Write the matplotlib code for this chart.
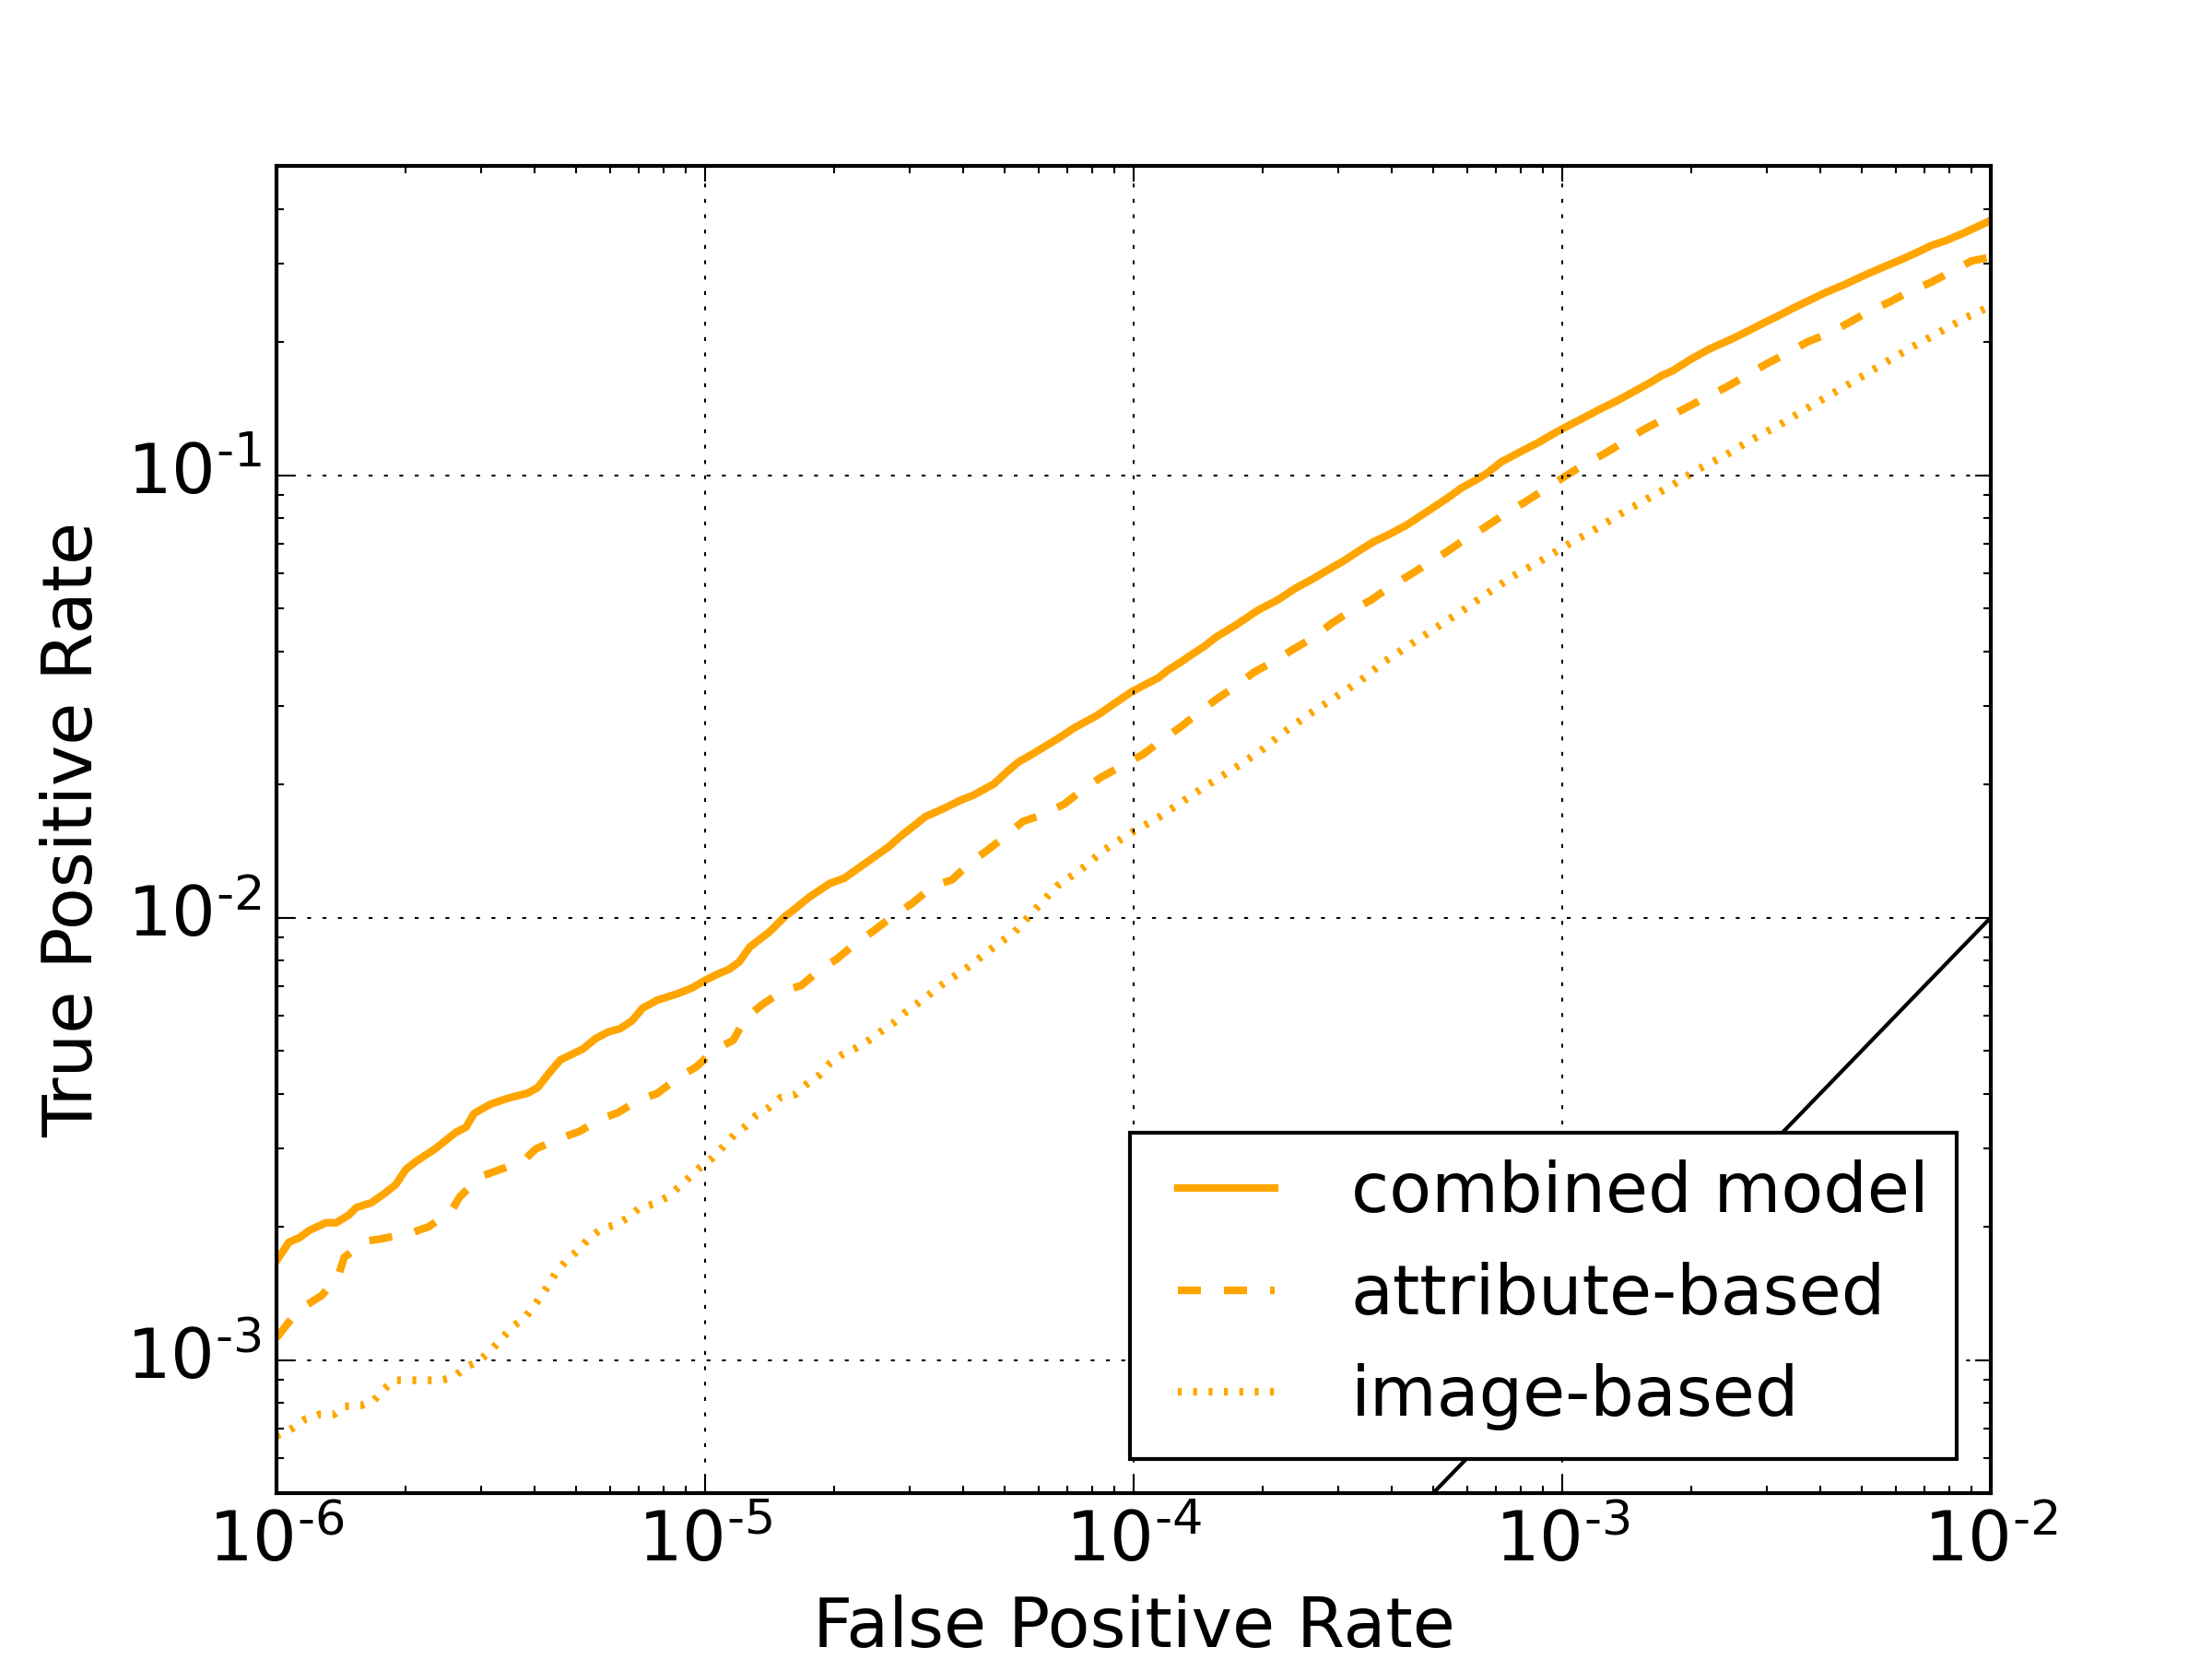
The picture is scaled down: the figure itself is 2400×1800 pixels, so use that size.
import numpy as np
import matplotlib
matplotlib.use("Agg")
import matplotlib.pyplot as plt
from matplotlib.ticker import FuncFormatter

# curves, stored as log10 exponents
combined_fpr = [-6.000, -5.971, -5.947, -5.923, -5.885, -5.861, -5.832, -5.813, -5.779, -5.750,
                -5.722, -5.698, -5.674, -5.630, -5.582, -5.558, -5.539, -5.501, -5.462, -5.414,
                -5.390, -5.366, -5.338, -5.285, -5.256, -5.227, -5.198, -5.170, -5.146, -5.112,
                -5.064, -5.030, -5.002, -4.973, -4.944, -4.920, -4.896, -4.848, -4.814, -4.790,
                -4.757, -4.709, -4.675, -4.627, -4.570, -4.541, -4.513, -4.486, -4.442, -4.402,
                -4.375, -4.326, -4.295, -4.268, -4.237, -4.210, -4.179, -4.138, -4.085, -4.040,
                -4.005, -3.978, -3.942, -3.920, -3.889, -3.862, -3.835, -3.809, -3.760, -3.711,
                -3.662, -3.621, -3.581, -3.541, -3.510, -3.474, -3.439, -3.408, -3.363, -3.318,
                -3.274, -3.235, -3.201, -3.176, -3.142, -3.099, -3.057, -3.014, -2.989, -2.955,
                -2.912, -2.870, -2.827, -2.793, -2.768, -2.742, -2.700, -2.657, -2.606, -2.564,
                -2.530, -2.496, -2.462, -2.428, -2.385, -2.343, -2.292, -2.249, -2.207, -2.164,
                -2.139, -2.105, -2.071, -2.037, -2.000]
combined_tpr = [-2.776, -2.734, -2.724, -2.707, -2.690, -2.690, -2.673, -2.655, -2.645, -2.625,
                -2.604, -2.569, -2.551, -2.523, -2.486, -2.474, -2.443, -2.422, -2.409, -2.397,
                -2.384, -2.354, -2.322, -2.297, -2.274, -2.259, -2.251, -2.233, -2.205, -2.187,
                -2.172, -2.159, -2.143, -2.129, -2.117, -2.100, -2.067, -2.031, -1.998, -1.980,
                -1.954, -1.923, -1.911, -1.878, -1.839, -1.814, -1.793, -1.772, -1.753, -1.734,
                -1.724, -1.698, -1.670, -1.648, -1.631, -1.615, -1.597, -1.571, -1.543, -1.513,
                -1.490, -1.476, -1.458, -1.441, -1.422, -1.404, -1.387, -1.367, -1.338, -1.306,
                -1.281, -1.255, -1.234, -1.211, -1.194, -1.171, -1.150, -1.136, -1.113, -1.084,
                -1.056, -1.029, -1.011, -0.996, -0.970, -0.948, -0.927, -0.903, -0.890, -0.873,
                -0.851, -0.831, -0.808, -0.790, -0.775, -0.764, -0.738, -0.715, -0.693, -0.673,
                -0.656, -0.640, -0.623, -0.607, -0.587, -0.570, -0.547, -0.529, -0.512, -0.493,
                -0.481, -0.470, -0.456, -0.441, -0.424]

attribute_fpr = [-6.000, -5.966, -5.928, -5.894, -5.856, -5.842, -5.789, -5.760, -5.683, -5.645,
                 -5.592, -5.573, -5.525, -5.482, -5.424, -5.395, -5.338, -5.294, -5.242, -5.203,
                 -5.155, -5.112, -5.059, -5.021, -4.978, -4.934, -4.906, -4.867, -4.819, -4.776,
                 -4.728, -4.694, -4.646, -4.608, -4.558, -4.517, -4.468, -4.424, -4.379, -4.344,
                 -4.295, -4.259, -4.205, -4.161, -4.116, -4.076, -4.027, -3.978, -3.934, -3.893,
                 -3.844, -3.809, -3.760, -3.720, -3.671, -3.630, -3.577, -3.541, -3.492, -3.447,
                 -3.398, -3.358, -3.309, -3.269, -3.218, -3.184, -3.125, -3.087, -3.031, -2.997,
                 -2.946, -2.904, -2.853, -2.810, -2.759, -2.717, -2.666, -2.619, -2.572, -2.526,
                 -2.475, -2.428, -2.377, -2.334, -2.283, -2.237, -2.190, -2.139, -2.088, -2.045,
                 -2.000]
attribute_tpr = [-2.950, -2.908, -2.875, -2.854, -2.811, -2.768, -2.731, -2.727, -2.712, -2.699,
                 -2.663, -2.632, -2.586, -2.571, -2.550, -2.523, -2.499, -2.484, -2.455, -2.441,
                 -2.412, -2.398, -2.359, -2.338, -2.300, -2.277, -2.228, -2.197, -2.166, -2.154,
                 -2.115, -2.095, -2.056, -2.031, -1.994, -1.968, -1.929, -1.915, -1.874, -1.850,
                 -1.813, -1.783, -1.765, -1.743, -1.709, -1.683, -1.657, -1.631, -1.599, -1.571,
                 -1.534, -1.508, -1.476, -1.446, -1.420, -1.395, -1.365, -1.337, -1.306, -1.283,
                 -1.250, -1.227, -1.197, -1.173, -1.139, -1.120, -1.082, -1.061, -1.026, -1.005,
                 -0.974, -0.953, -0.923, -0.897, -0.871, -0.851, -0.825, -0.802, -0.776, -0.750,
                 -0.724, -0.699, -0.679, -0.657, -0.629, -0.609, -0.585, -0.564, -0.538, -0.516,
                 -0.507]

image_fpr = [-6.000, -5.962, -5.933, -5.899, -5.866, -5.842, -5.803, -5.774, -5.750, -5.726,
             -5.664, -5.616, -5.587, -5.558, -5.530, -5.501, -5.472, -5.448, -5.419, -5.395,
             -5.366, -5.347, -5.323, -5.294, -5.270, -5.242, -5.208, -5.179, -5.155, -5.122,
             -5.088, -5.059, -5.035, -5.011, -4.982, -4.954, -4.930, -4.906, -4.882, -4.853,
             -4.824, -4.790, -4.762, -4.733, -4.709, -4.680, -4.646, -4.617, -4.589, -4.560,
             -4.531, -4.504, -4.446, -4.388, -4.335, -4.277, -4.228, -4.179, -4.121, -4.067,
             -4.005, -3.942, -3.885, -3.827, -3.764, -3.706, -3.648, -3.590, -3.532, -3.470,
             -3.416, -3.354, -3.296, -3.231, -3.176, -3.116, -3.052, -2.993, -2.929, -2.870,
             -2.806, -2.742, -2.683, -2.619, -2.560, -2.496, -2.432, -2.372, -2.309, -2.249,
             -2.186, -2.122, -2.058, -2.000]
image_tpr = [-3.172, -3.154, -3.134, -3.123, -3.123, -3.105, -3.103, -3.093, -3.067, -3.046,
             -3.046, -3.046, -3.039, -3.016, -3.004, -2.980, -2.949, -2.924, -2.903, -2.873,
             -2.832, -2.801, -2.775, -2.750, -2.724, -2.704, -2.694, -2.678, -2.658, -2.648,
             -2.632, -2.607, -2.586, -2.564, -2.543, -2.514, -2.489, -2.472, -2.448, -2.431,
             -2.407, -2.400, -2.376, -2.356, -2.330, -2.310, -2.294, -2.277, -2.257, -2.238,
             -2.213, -2.194, -2.151, -2.113, -2.073, -2.032, -1.980, -1.929, -1.890, -1.846,
             -1.808, -1.774, -1.737, -1.700, -1.662, -1.625, -1.580, -1.540, -1.504, -1.464,
             -1.422, -1.383, -1.346, -1.305, -1.268, -1.229, -1.195, -1.160, -1.126, -1.091,
             -1.056, -1.022, -0.987, -0.955, -0.921, -0.888, -0.851, -0.817, -0.782, -0.747,
             -0.712, -0.678, -0.644, -0.618]

chance = [1e-6, 1e-2]

plt.style.use('classic')
plt.rcParams['font.size'] = 18
plt.rcParams['legend.fontsize'] = 18
plt.rcParams['mathtext.fontset'] = 'dejavusans'
plt.rcParams['mathtext.default'] = 'regular'
plt.rcParams['axes.unicode_minus'] = False


def log_label(val, pos):
    # old-style "10^-n" labels with a short hyphen in the exponent
    exp = int(round(np.log10(val)))
    sign = '\u2010' if exp < 0 else ''
    return '$10^{%s%d}$' % (sign, abs(exp))


fig = plt.figure(figsize=(8, 6), dpi=300)
ax = fig.add_subplot(111)

ax.plot(np.power(10.0, combined_fpr), np.power(10.0, combined_tpr), color='orange',
        linewidth=2, linestyle='-', label='combined model')
ax.plot(np.power(10.0, attribute_fpr), np.power(10.0, attribute_tpr), color='orange',
        linewidth=2, linestyle='--', label='attribute-based')
ax.plot(np.power(10.0, image_fpr), np.power(10.0, image_tpr), color='orange',
        linewidth=2, linestyle=':', label='image-based')
ax.plot(chance, chance, color='black', linewidth=1)

ax.set_xscale('log')
ax.set_yscale('log')
ax.set_xlim(1e-6, 1e-2)
ax.set_ylim(5e-4, 0.5)
ax.xaxis.set_major_formatter(FuncFormatter(log_label))
ax.yaxis.set_major_formatter(FuncFormatter(log_label))
ax.grid(True)
ax.set_xlabel('False Positive Rate')
ax.set_ylabel('True Positive Rate')
ax.legend(loc=4)

fig.savefig('out.png', dpi=300)
